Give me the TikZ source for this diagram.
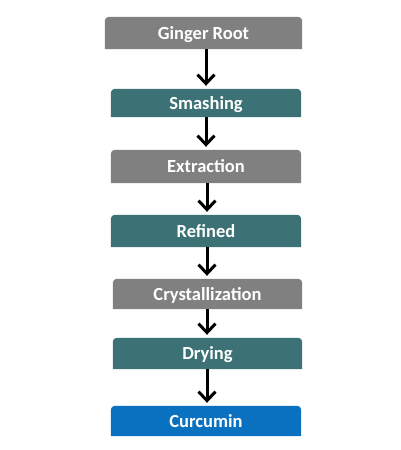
\documentclass[tikz,border=0pt]{standalone}
\usepackage{fontspec}
\setmainfont{Carlito}
\usetikzlibrary{arrows.meta,backgrounds}
\definecolor{boxgray}{RGB}{128,128,128}
\definecolor{boxteal}{RGB}{60,114,117}
\definecolor{boxblue}{RGB}{10,112,192}
\tikzset{
  stepbox/.style={text=white,font=\bfseries\fontsize{18.5}{22}\selectfont,inner sep=0pt,text height=12pt,text depth=0pt},
  flowarrow/.style={line width=3pt,-{Straight Barb[length=9pt,width=17pt,line width=3pt]},shorten >=3pt}
}
\newcommand{\boxbg}[2]{%
  \fill[#2,rounded corners=4pt] (#1.south west) -- (#1.north west) -- (#1.north east) -- ([yshift=-0.01pt]#1.south east)[sharp corners] -- (#1.south east) -- cycle;}
\begin{document}
\begin{tikzpicture}[x=1pt,y=-1pt]
\useasboundingbox (0,0) rectangle (400,450);
\node[stepbox,minimum width=197pt,minimum height=32pt] (g) at (203.5,33) {Ginger Root};
\node[stepbox,minimum width=190pt,minimum height=28pt] (s) at (206,103) {Smashing};
\node[stepbox,minimum width=190pt,minimum height=33pt] (e) at (206,166.5) {Extraction};
\node[stepbox,minimum width=190pt,minimum height=32pt] (r) at (206,231) {Refined};
\node[stepbox,minimum width=189pt,minimum height=30pt] (c) at (207.5,294) {Crystallization};
\node[stepbox,minimum width=189pt,minimum height=31pt] (d) at (207.5,353.5) {Drying};
\node[stepbox,minimum width=190pt,minimum height=30pt] (u) at (206,421) {Curcumin};
\begin{scope}[on background layer]
\fill[white] (0,0) rectangle (400,450);
\boxbg{g}{boxgray}
\boxbg{s}{boxteal}
\boxbg{e}{boxgray}
\boxbg{r}{boxteal}
\boxbg{c}{boxgray}
\boxbg{d}{boxteal}
\boxbg{u}{boxblue}
\end{scope}
\draw[flowarrow] (g.south -| 206,0) -- (s.north -| 206,0);
\draw[flowarrow] (s.south -| 206,0) -- (e.north -| 206,0);
\draw[flowarrow] (e.south -| 207,0) -- (r.north -| 207,0);
\draw[flowarrow] (r.south -| 207,0) -- (c.north -| 207,0);
\draw[flowarrow] (c.south -| 207,0) -- (d.north -| 207,0);
\draw[flowarrow] (d.south -| 207,0) -- (u.north -| 207,0);
\end{tikzpicture}
\end{document}
